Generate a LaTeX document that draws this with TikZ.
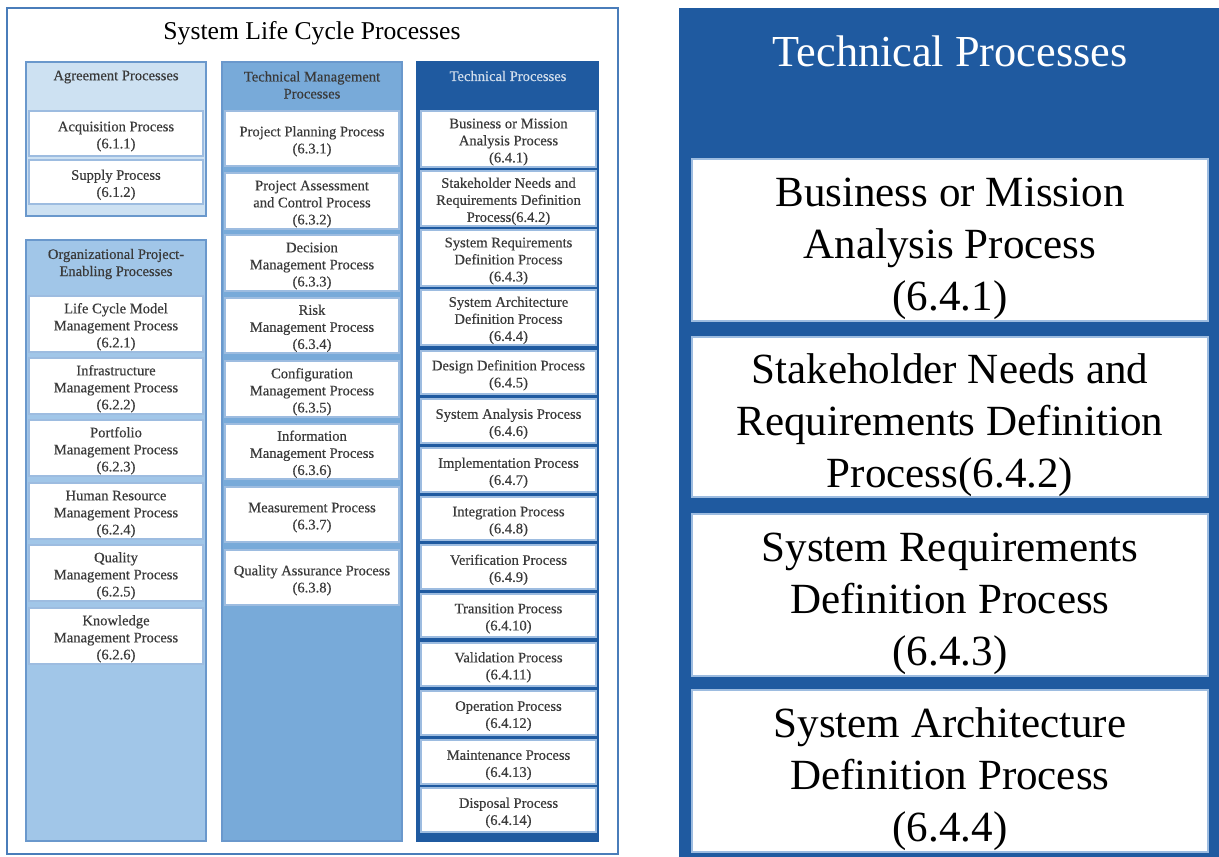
\documentclass[tikz,border=0pt]{standalone}
\usepackage{fontspec}
\setmainfont{Liberation Serif}
\newfontfamily\semiserif[BoldFont={Liberation Serif}, BoldFeatures={FakeBold=0.4}]{Liberation Serif}
\definecolor{agreefill}{HTML}{CDE1F2}
\definecolor{orgfill}{HTML}{A1C6E8}
\definecolor{tmfill}{HTML}{78AAD9}
\definecolor{tpfill}{HTML}{1F5AA0}
\definecolor{frameblue}{HTML}{4A7DBA}
\definecolor{grpedge}{HTML}{6A98CC}
\definecolor{boxedge}{HTML}{9DBCE0}
\definecolor{txtgray}{HTML}{3A3A3A}
\newcommand{\firstlift}{0pt}
\tikzset{
  smallfont/.style={font=\semiserif\bfseries\fontsize{8.3}{9.7}\selectfont},
  procbox/.style={draw=boxedge, fill=white, line width=0.6pt, align=center,
    smallfont, text=txtgray, inner sep=0pt,
    /utils/exec={\renewcommand{\firstlift}{9pt}}},
  bigbox/.style={draw=boxedge, fill=white, line width=0.6pt, align=center,
    font=\fontsize{24.5}{29.5}\selectfont, text=black, inner sep=0pt,
    /utils/exec={\renewcommand{\firstlift}{26pt}}},
  grpbox/.style={draw=grpedge, line width=0.9pt},
  grphead/.style={align=center, smallfont, text=txtgray}
}
% box from (x1,y1) to (x2,y2), in pixels of the reference
\newcommand{\pbox}[7]{%
  \node[#1, minimum width={(#5-#3)*0.02cm}, minimum height={(#6-#4)*0.02cm}]
    (#2) at ({(#3+#5)/2},{(#4+#6)/2}) {\rule{0pt}{\firstlift}#7};}
\begin{document}
\begin{tikzpicture}[x=0.02cm, y=-0.02cm]
  \useasboundingbox (0,0) rectangle (1219,857);

  % left panel
  \draw[draw=frameblue, line width=1.2pt, fill=white] (7,8) rectangle (618,854);
  \node[font=\fontsize{14.6}{17}\selectfont, text=black] (title) at (312,33) {System Life Cycle Processes};

  % groups
  \draw[grpbox, fill=agreefill] (26,62) rectangle (206,216);
  \draw[grpbox, fill=orgfill] (26,240) rectangle (206,841);
  \draw[grpbox, fill=tmfill] (222,62) rectangle (402,841);
  \draw[grpbox, draw=tpfill, fill=tpfill] (417,62) rectangle (598,841);

  \node[grphead] (agree) at (116,77) {Agreement Processes};
  \node[grphead] (org) at (116,264) {Organizational Project-\\Enabling Processes};
  \node[grphead] (techmgmt) at (312,85) {Technical Management\\Processes};
  \node[grphead, text=white!80!tpfill] (tech) at (508,76) {Technical Processes};

  % agreement
  \pbox{procbox}{acq}{29}{111}{203}{156}{Acquisition Process\\(6.1.1)}
  \pbox{procbox}{sup}{29}{160}{203}{204}{Supply Process\\(6.1.2)}

  % organizational project-enabling
  \foreach \t/\b/\txt [count=\i] in {
      296/352/{Life Cycle Model\\Management Process\\(6.2.1)},
      358/414/{Infrastructure\\Management Process\\(6.2.2)},
      420/476/{Portfolio\\Management Process\\(6.2.3)},
      483/539/{Human Resource\\Management Process\\(6.2.4)},
      545/601/{Quality\\Management Process\\(6.2.5)},
      608/664/{Knowledge\\Management Process\\(6.2.6)}}
    \pbox{procbox}{op\i}{29}{\t}{203}{\b}{\txt};

  % technical management
  \foreach \t/\b/\txt [count=\i] in {
      111/166/{Project Planning Process\\(6.3.1)},
      173/229/{Project Assessment\\and Control Process\\(6.3.2)},
      235/291/{Decision\\Management Process\\(6.3.3)},
      298/353/{Risk\\Management Process\\(6.3.4)},
      361/417/{Configuration\\Management Process\\(6.3.5)},
      424/479/{Information\\Management Process\\(6.3.6)},
      487/542/{Measurement Process\\(6.3.7)},
      550/605/{Quality Assurance Process\\(6.3.8)}}
    \pbox{procbox}{tm\i}{225}{\t}{399}{\b}{\txt};

  % technical
  \foreach \t/\b/\txt [count=\i] in {
      111/167/{Business or Mission\\Analysis Process\\(6.4.1)},
      171/226/{Stakeholder Needs and\\Requirements Definition\\Process(6.4.2)},
      230/286/{System Requirements\\Definition Process\\(6.4.3)},
      290/345/{System Architecture\\Definition Process\\(6.4.4)},
      351/394/{Design Definition Process\\(6.4.5)},
      399/443/{System Analysis Process\\(6.4.6)},
      448/492/{Implementation Process\\(6.4.7)},
      497/540/{Integration Process\\(6.4.8)},
      545/589/{Verification Process\\(6.4.9)},
      594/637/{Transition Process\\(6.4.10)},
      643/686/{Validation Process\\(6.4.11)},
      691/735/{Operation Process\\(6.4.12)},
      740/784/{Maintenance Process\\(6.4.13)},
      788/832/{Disposal Process\\(6.4.14)}}
    \pbox{procbox}{tp\i}{421}{\t}{596}{\b}{\txt};

  % right panel
  \fill[tpfill] (679,8) rectangle (1219,857);
  \node[font=\fontsize{25.2}{29}\selectfont, text=white] (bigtitle) at (950,51) {Technical Processes};
  \pbox{bigbox}{big1}{692}{159}{1208}{321}{Business or Mission\\Analysis Process\\(6.4.1)}
  \pbox{bigbox}{big2}{692}{337}{1208}{497}{Stakeholder Needs and\\Requirements Definition\\Process(6.4.2)}
  \pbox{bigbox}{big3}{692}{514}{1208}{676}{System Requirements\\Definition Process\\(6.4.3)}
  \pbox{bigbox}{big4}{692}{690}{1208}{852}{System Architecture\\Definition Process\\(6.4.4)}
\end{tikzpicture}
\end{document}
